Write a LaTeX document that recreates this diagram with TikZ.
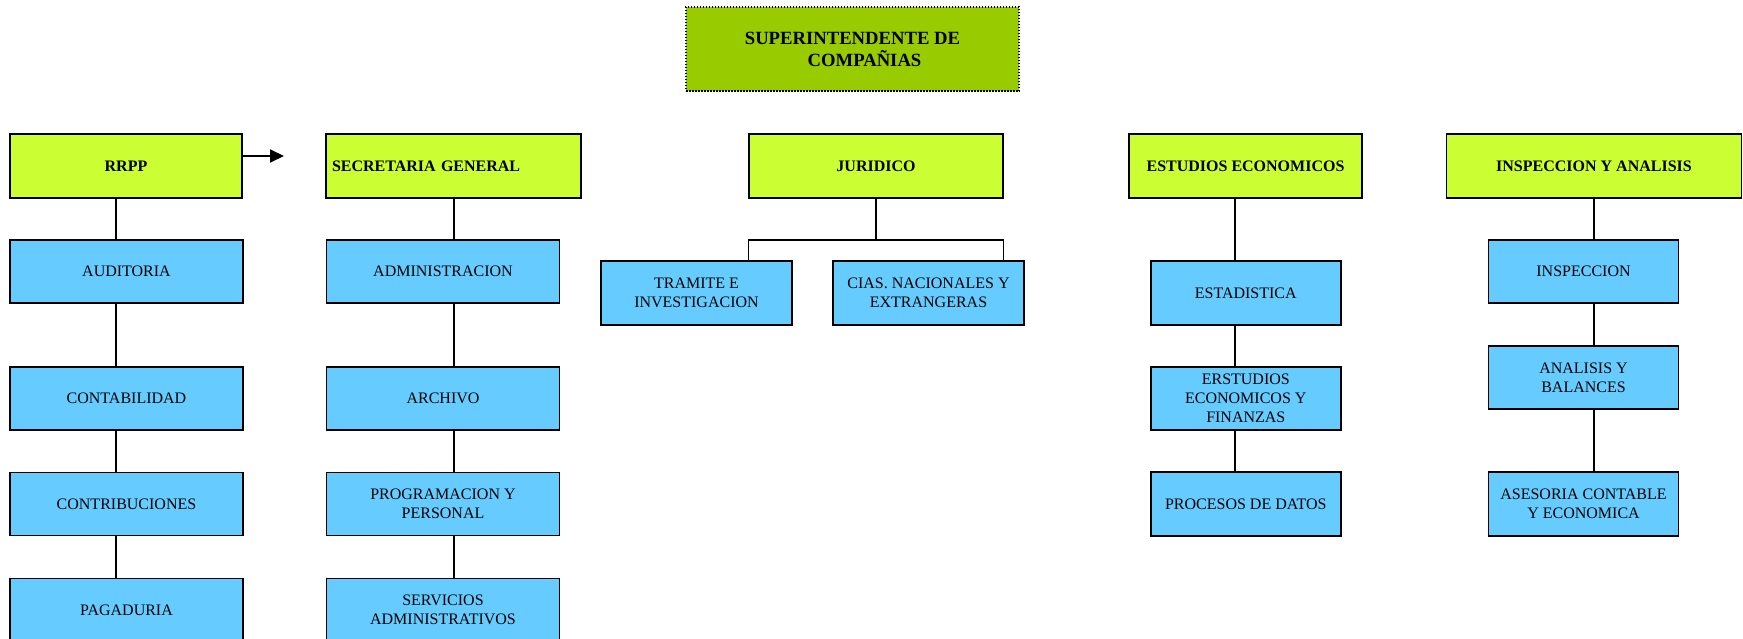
\documentclass[tikz,border=0pt]{standalone}
\usepackage{fontspec}
\setmainfont{Liberation Serif}
\usepackage{xcolor}
\usepackage{tikz}
\usetikzlibrary{calc}
\usetikzlibrary{arrows.meta}
\definecolor{topgreen}{HTML}{99CC00}
\definecolor{headlime}{HTML}{CCFF33}
\definecolor{unitblue}{HTML}{66CCFF}
\newdimen\px \px=0.75pt
\tikzset{
  topbox/.style={draw,line width=1.5\px,dash pattern=on 1.5\px off 1.5\px,fill=topgreen,
    minimum width=333\px,minimum height=84\px,inner sep=0pt,align=center,
    font=\fontsize{14}{16.5}\selectfont\bfseries},
  headbox/.style={draw,line width=1.5\px,fill=headlime,minimum height=64\px,
    inner sep=0pt,align=center,font=\fontsize{12}{14.2}\selectfont\bfseries},
  unitbox/.style={draw,line width=1.5\px,fill=unitblue,minimum height=63\px,
    inner sep=0pt,align=center,font=\fontsize{12}{14.2}\selectfont},
  link/.style={line width=1.2\px},
}

\begin{document}
\begin{tikzpicture}[x=0.75pt,y=-0.75pt]
    \clip (0,0) rectangle (1743,639);

      \node[topbox] (sup) at (852.5,49) {SUPERINTENDENTE DE\\\hspace*{24\px}COMPAÑIAS};

      % heads
      \node[headbox,minimum width=232\px] (rrpp) at (126,166) {RRPP};
      \node[headbox,minimum width=255\px,text width=243\px,inner xsep=6\px,align=left] (secgen) at (453.5,166) {SECRETARIA GENERAL};
      \node[headbox,minimum width=254\px] (jur) at (876,166) {JURIDICO};
      \node[headbox,minimum width=233\px] (estud) at (1245.5,166) {ESTUDIOS ECONOMICOS};
      \node[headbox,minimum width=295\px] (inspana) at (1594,166) {INSPECCION Y ANALISIS};

      % units
      \node[unitbox,minimum width=233\px] (audit) at (126.5,271.5) {AUDITORIA};
      \node[unitbox,minimum width=233\px] (conta) at (126.5,398.5) {CONTABILIDAD};
      \node[unitbox,minimum width=233\px] (contri) at (126.5,504) {CONTRIBUCIONES};
      \node[unitbox,minimum width=233\px] (paga) at (126.5,610) {PAGADURIA};

      \node[unitbox,minimum width=233\px] (admin) at (443,271.5) {ADMINISTRACION};
      \node[unitbox,minimum width=233\px] (archivo) at (443,398.5) {ARCHIVO};
      \node[unitbox,minimum width=233\px] (progra) at (443,504) {PROGRAMACION Y\\PERSONAL};
      \node[unitbox,minimum width=233\px] (servi) at (443,610) {SERVICIOS\\ADMINISTRATIVOS};

      \node[unitbox,minimum width=191\px,minimum height=64\px] (tram) at (696.5,293) {TRAMITE E\\INVESTIGACION};
      \node[unitbox,minimum width=191\px,minimum height=64\px] (cias) at (928.5,293) {CIAS. NACIONALES Y\\EXTRANGERAS};

      \node[unitbox,minimum width=190\px,minimum height=64\px] (estad) at (1245.8,293) {ESTADISTICA};
      \node[unitbox,minimum width=190\px] (erst) at (1245.8,398.5) {ERSTUDIOS\\ECONOMICOS Y\\FINANZAS};
      \node[unitbox,minimum width=190\px,minimum height=64\px] (proc) at (1245.8,504) {PROCESOS DE DATOS};

      \node[unitbox,minimum width=190\px] (insp) at (1583.5,271.5) {INSPECCION};
      \node[unitbox,minimum width=190\px] (anal) at (1583.5,377.5) {ANALISIS Y\\BALANCES};
      \node[unitbox,minimum width=190\px,minimum height=64\px] (ases) at (1583.5,504) {ASESORIA CONTABLE\\Y ECONOMICA};

      % connectors
      \coordinate (ax1) at (116,0);
      \coordinate (ax2) at (454,0);
      \coordinate (ax4) at (1235,0);
      \coordinate (ax5) at (1594,0);
      \foreach \a/\b/\c in {rrpp/audit/ax1,audit/conta/ax1,conta/contri/ax1,contri/paga/ax1,
                            secgen/admin/ax2,admin/archivo/ax2,archivo/progra/ax2,progra/servi/ax2,
                            estud/estad/ax4,estad/erst/ax4,erst/proc/ax4,
                            inspana/insp/ax5,insp/anal/ax5,anal/ases/ax5}
        \draw[link] (\a.south -| \c) -- (\b.north -| \c);

      \coordinate (jbar) at (876,240);
      \draw[link] (jur.south) -- (jbar);
      \draw[link] (tram.north -| jur.west) |- (jbar) -| (cias.north -| jur.east);

      \coordinate (arrtip) at (284,156);
      \draw[line width=2\px,-{Triangle[length=10.5pt,width=9.75pt]}] (rrpp.east |- arrtip) -- (arrtip);

    \end{tikzpicture}
\end{document}
